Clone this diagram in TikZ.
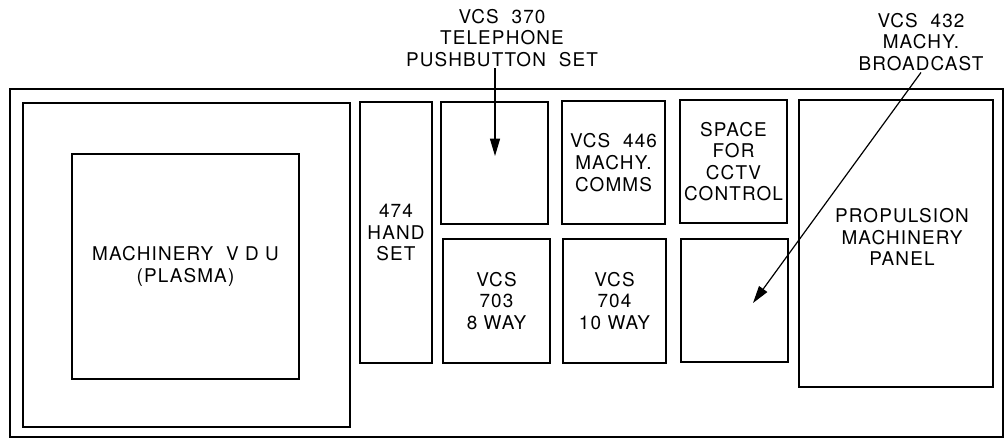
\documentclass[tikz,border=0pt]{standalone}
\usepackage{fontspec}
\setmainfont{TeX Gyre Heros}[LetterSpace=6]
\usetikzlibrary{arrows.meta}
\begin{document}
\begin{tikzpicture}[x=0.75pt,y=-0.75pt,
    panel/.style={line width=1.8pt},
    lbl/.style={align=center,font=\fontsize{14.2}{16.2}\selectfont,inner sep=1pt},
    ptr/.style={line width=0.9pt,-{Triangle[length=13pt,width=7.5pt]}}]
    \useasboundingbox (0,0) rectangle (1006,440);
    % console outline
    \draw[line width=1.4pt] (10,89) rectangle (1003,437);
    % VDU
    \draw[panel] (23,103) rectangle (350,427);
    \draw[panel] (72,154) rectangle node[lbl] (vdu) {MACHINERY~~V~D~U\\(PLASMA)} (299,379);
    % hand set and comms panels
    \draw[panel] (360,102) rectangle node[lbl] (hand) {474\\HAND\\SET} (432,363);
    \draw[panel] (441,102) rectangle node (p370) {} (548,224);
    \draw[panel] (562,101) rectangle node[lbl] (p446) {VCS~~446\\MACHY.\\COMMS} (665,224);
    \draw[panel] (680,100) rectangle node[lbl] (cctv) {SPACE\\FOR\\CCTV\\CONTROL} (787,223);
    \draw[panel] (443,239) rectangle node[lbl] (p703) {VCS\\703\\8 WAY} (550,363);
    \draw[panel] (563,239) rectangle node[lbl] (p704) {VCS\\704\\10 WAY} (666,363);
    \draw[panel] (681,239) rectangle node (p432) {} (788,362);
    \draw[panel] (799,100) rectangle (993,387);
    \node[lbl] (prop) at (902,237) {PROPULSION\\MACHINERY\\PANEL};
    % callouts
    \node[lbl] (tel370) at (502,38) {VCS~~370\\TELEPHONE\\PUSHBUTTON~~SET};
    \node[lbl] (bc432) at (921,42) {VCS~~432\\MACHY.\\BROADCAST};
    \coordinate (tip370) at (495,156);
    \coordinate (tip432) at (753,303);
    \draw[ptr] (tel370.south -| tip370) -- (tip370);
    \draw[ptr] (bc432.south) -- (tip432);
\end{tikzpicture}
\end{document}
